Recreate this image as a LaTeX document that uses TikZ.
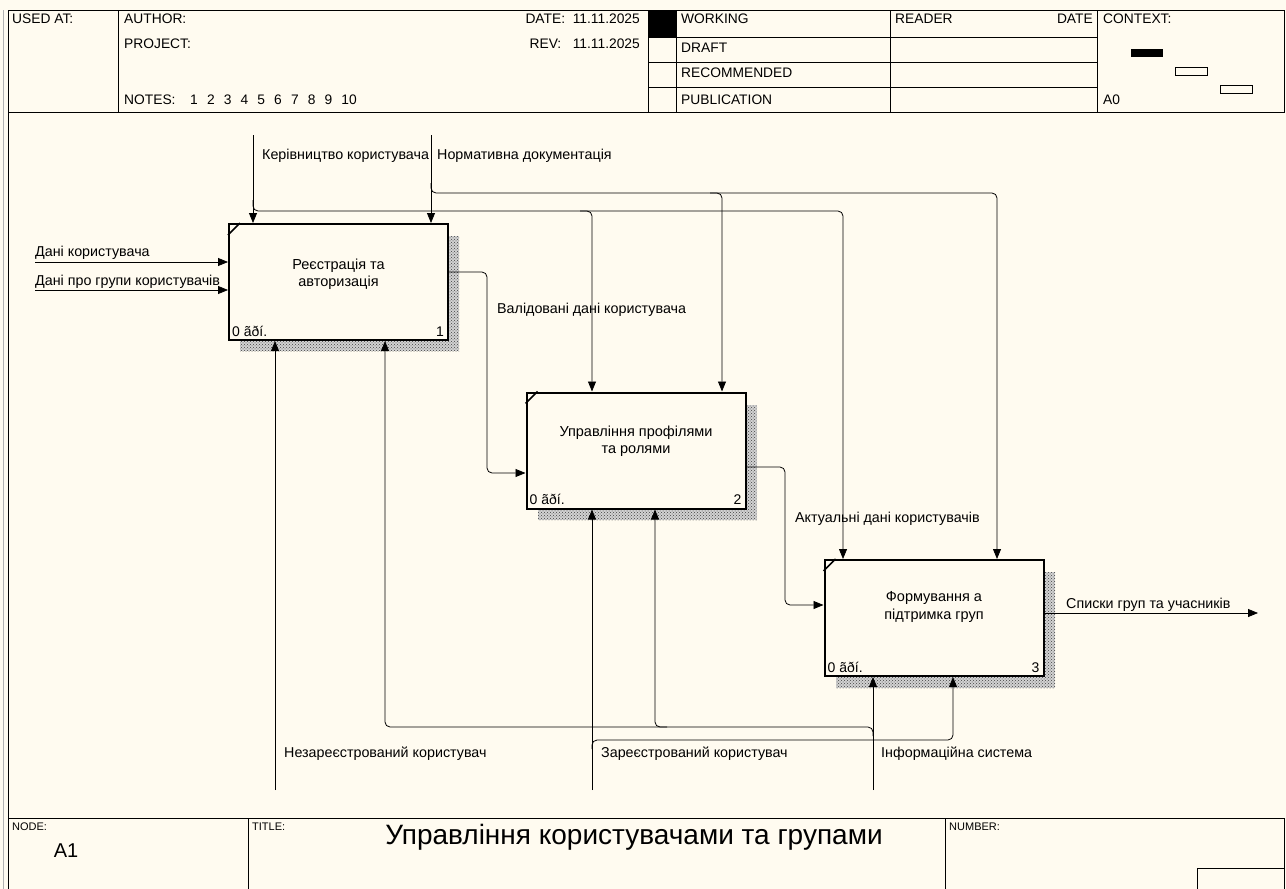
\documentclass[tikz,border=0pt]{standalone}
\usepackage{fontspec}
\setmainfont{Liberation Sans}
\usetikzlibrary{arrows.meta,patterns,calc}
\definecolor{bg}{RGB}{255,251,240}
\newcommand\fsz[1]{\fontsize{#1}{#1}\selectfont}
\begin{document}
\begin{tikzpicture}[x=1pt,y=-1pt,
  arr/.style={draw, line width=0.8pt, -{Triangle[length=10pt,width=8pt]}},
  rc/.style={rounded corners=5pt},
  frm/.style={draw, line width=1pt},
  box/.style={draw, line width=2pt, fill=bg, minimum width=219pt, minimum height=116pt, inner sep=0pt},
  btxt/.style={align=center, inner sep=0pt, font=\fontsize{14.5}{17.5}\selectfont},
  lbl/.style={anchor=base west, inner sep=0pt, font=\fsz{14.3}},
  hd/.style={anchor=base west, inner sep=0pt, font=\fsz{13.8}},
  shd/.style={pattern=crosshatch dots, pattern color=black!75, draw=none}
]
\fill[bg] (0,0) rectangle (1286,889);
\useasboundingbox (0,0) rectangle (1286,889);

% ---------- header ----------
\draw[gray!60, line width=1pt] (3,10) -- (3,889);
\draw[frm] (8,10) rectangle (1284,112);
\foreach \x in {118,648,676,890,1097} \draw[frm] (\x,10) -- (\x,112);
\foreach \y in {37,62,87} \draw[frm] (648,\y) -- (1097,\y);
\fill[black] (648,10) rectangle (676,37);
\node[hd] (usedat) at (12,23) {USED AT:};
\node[hd] (author) at (124,23) {AUTHOR:};
\node[hd] (project) at (124,48) {PROJECT:};
\node[hd] (notes) at (124,104) {NOTES:};
\foreach \n [count=\i from 0] in {1,2,3,4,5,6,7,8,9,10}
  \node[hd] (note\n) at (190+\i*16.8,104) {\n};
\node[hd, anchor=base east] (date) at (640,23) {DATE:\ \ 11.11.2025};
\node[hd, anchor=base east] (rev) at (640,48) {REV:\ \ \ 11.11.2025};
\node[hd] (working) at (681,23) {WORKING};
\node[hd] (draft) at (681,52) {DRAFT};
\node[hd] (recom) at (681,77) {RECOMMENDED};
\node[hd] (publ) at (681,104) {PUBLICATION};
\node[hd] (reader) at (895,23) {READER};
\node[hd, anchor=base east] (rdate) at (1093,23) {DATE};
\node[hd] (context) at (1103,23) {CONTEXT:};
\node[hd] (a0) at (1103,104) {A0};
\fill[black] (1131,49) rectangle (1163,57);
\draw[line width=0.8pt] (1175,67) rectangle (1207,75);
\draw[line width=0.8pt] (1220,85) rectangle (1252,93);

% ---------- frame ----------
\draw[frm] (8,112) -- (8,889);
\draw[frm] (8,818) -- (1284,818);
\draw[frm] (248,818) -- (248,889);
\draw[frm] (945,818) -- (945,889);
\draw[frm] (1284,818) -- (1284,889);
\draw[frm] (1197,868) -- (1284,868);
\draw[frm] (1197,868) -- (1197,889);
\node[anchor=base west, inner sep=0pt, font=\fsz{11}] (nodel) at (12,830) {NODE:};
\node[anchor=base west, inner sep=0pt, font=\fsz{11}] (titlel) at (252,830) {TITLE:};
\node[anchor=base west, inner sep=0pt, font=\fsz{11}] (numl) at (949,830) {NUMBER:};
\node[anchor=base, inner sep=0pt, font=\fsz{20}] (a1) at (66,857) {A1};
\node[anchor=base, inner sep=0pt, font=\fsz{28}] (title) at (634,844) {Управління користувачами та групами};

% ---------- boxes ----------
\fill[gray!35] (240,236) rectangle (459,351);
\fill[gray!35] (538,405) rectangle (757,520);
\fill[gray!35] (836,572) rectangle (1055,688);
\fill[shd] (240,236) rectangle (459,351);
\fill[shd] (538,405) rectangle (757,520);
\fill[shd] (836,572) rectangle (1055,688);
\node[box] (b1) at (338.5,282) {};
\node[box] (b2) at (636,450.5) {};
\node[box] (b3) at (934,618) {};
\node[btxt] (b1t) at (338.5,274) {Реєстрація та\\авторизація};
\node[btxt] (b2t) at (636,441) {Управління профілями\\та ролями};
\node[btxt] (b3t) at (934,607) {Формування а\\підтримка груп};
\foreach \b/\n in {b1/1,b2/2,b3/3}{
  \draw[line width=1.5pt] ($(\b.north west)+(0,12)$) -- ($(\b.north west)+(12,0)$);
  \node[anchor=base west, inner sep=0pt, font=\fsz{14}] at ($(\b.south west)+(4,-5)$) {0 ãðí.};
  \node[anchor=base east, inner sep=0pt, font=\fsz{14}] at ($(\b.south east)+(-5,-5)$) {\n};
}

% ---------- controls ----------
\coordinate (k1) at (253,135);
\coordinate (n1) at (431,135);
\draw[arr] (k1) -- (k1 |- b1.north);
\draw[arr] (n1) -- (n1 |- b1.north);
\draw[arr, rc] (253,200) -- (253,211) -- (843,211) -- (843,0 |- b3.north);
\draw[arr, rc] (580,211) -- (592,211) -- (592,0 |- b2.north);
\draw[arr, rc] (431,183) -- (431,193) -- (997,193) -- (997,0 |- b3.north);
\draw[arr, rc] (710,193) -- (722,193) -- (722,0 |- b2.north);
\node[lbl] (lk) at (262,159) {Керівництво користувача};
\node[lbl] (ln) at (437,159) {Нормативна документація};

% ---------- inputs ----------
\coordinate (i1) at (35,262);
\coordinate (i2) at (35,290);
\draw[arr] (i1) -- (i1 -| b1.west);
\draw[arr] (i2) -- (i2 -| b1.west);
\node[lbl] (li1) at (35,256) {Дані користувача};
\node[lbl] (li2) at (35,285) {Дані про групи користувачів};

% ---------- outputs ----------
\draw[arr, rc] (b1.east |- 0,272) -- (487,272) -- (487,473) -- (b2.west |- 0,473);
\draw[arr, rc] (b2.east |- 0,467) -- (785,467) -- (785,605) -- (b3.west |- 0,605);
\coordinate (o3) at (1258,613);
\draw[arr] (b3.east |- o3) -- (o3);
\node[lbl] (lo1) at (497,313) {Валідовані дані користувача};
\node[lbl] (lo2) at (795,522) {Актуальні дані користувачів};
\node[lbl] (lo3) at (1066,608) {Списки груп та учасників};

% ---------- mechanisms ----------
\coordinate (m1) at (275,790);
\coordinate (m2) at (592,790);
\coordinate (m3) at (873,790);
\draw[arr] (m1) -- (m1 |- b1.south);
\draw[arr] (m2) -- (m2 |- b2.south);
\draw[arr] (m3) -- (m3 |- b3.south);
\draw[arr, rc] (873,736) -- (873,727) -- (385,727) -- (385,0 |- b1.south);
\draw[arr, rc] (667,727) -- (655,727) -- (655,0 |- b2.south);
\draw[arr, rc] (592,749) -- (592,740) -- (953,740) -- (953,0 |- b3.south);
\node[lbl] (lm1) at (284,757) {Незареєстрований користувач};
\node[lbl] (lm2) at (601,757) {Зареєстрований користувач};
\node[lbl] (lm3) at (881,757) {Інформаційна система};
\end{tikzpicture}
\end{document}
